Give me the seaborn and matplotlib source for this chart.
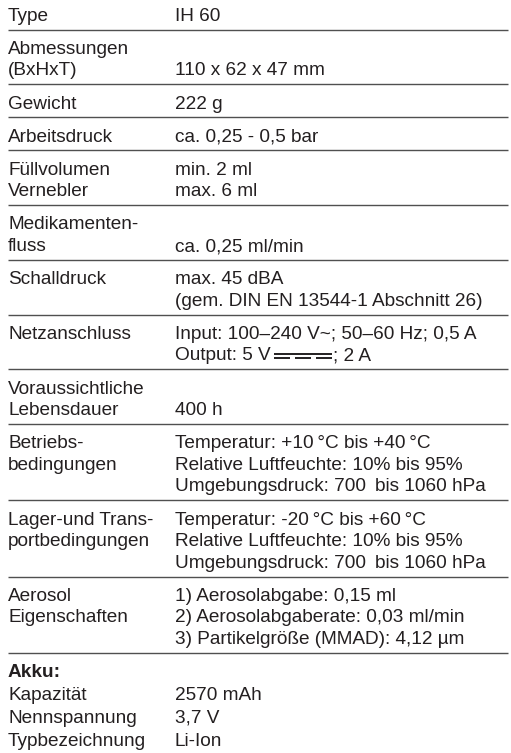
import matplotlib
matplotlib.use("Agg")
import matplotlib.pyplot as plt
import seaborn as sns

# table content
labels = ["Type", "Abmessungen\n(BxHxT)", "Gewicht", "Arbeitsdruck",
          "Füllvolumen\nVernebler", "Medikamenten-\nfluss", "Schalldruck",
          "Netzanschluss", "Voraussichtliche\nLebensdauer",
          "Betriebs-\nbedingungen", "Lager-und Trans-\nportbedingungen",
          "Aerosol\nEigenschaften"]
values = ["IH 60",
          "\n110 x 62 x 47 mm",
          "222 g",
          "ca. 0,25 - 0,5 bar",
          "min. 2 ml\nmax. 6 ml",
          "\nca. 0,25 ml/min",
          "max. 45 dBA\n(gem. DIN EN 13544-1 Abschnitt 26)",
          "Input: 100\u2013240 V~; 50\u201360 Hz; 0,5 A\nOutput: 5 V \u2393; 2 A",
          "\n400 h",
          "Temperatur: +10\u2009°C bis +40\u2009°C\nRelative Luftfeuchte: 10% bis 95%\nUmgebungsdruck: 700 \u2009bis 1060 hPa",
          "Temperatur: -20\u2009°C bis +60\u2009°C\nRelative Luftfeuchte: 10% bis 95%\nUmgebungsdruck: 700 \u2009bis 1060 hPa",
          "1) Aerosolabgabe: 0,15 ml\n2) Aerosolabgaberate: 0,03 ml/min\n3) Partikelgröße (MMAD): 4,12 µm"]
akku_title = "Akku:"
akku_labels = ["Kapazität", "Nennspannung", "Typbezeichnung"]
akku_values = ["2570 mAh", "3,7 V", "Li-Ion"]

sns.set_style("white")
plt.rcParams['font.family'] = ['Liberation Sans', 'DejaVu Sans']

fig = plt.figure(figsize=(5.11, 7.53), dpi=100)
ax = fig.add_axes([0, 0, 1, 1])
ax.set_xlim(0, 511)
ax.set_ylim(753, 0)
ax.axis("off")

ink = "#231f20"
rule_col = "#505050"
fs = 13.7
pitch = 21.6
x_lab, x_val = 8, 175
renderer = fig.canvas.get_renderer()


def put(x, y, s, **kw):
    return ax.text(x, y, s, fontsize=fs, color=ink, va="baseline", ha="left", **kw)


def put_value(x, y, s):
    if "\u2393" not in s:
        put(x, y, s)
        return
    # DC symbol drawn by hand (solid bar over three dashes)
    head, tail = s.split("\u2393")
    t = put(x, y, head.rstrip())
    bb = t.get_window_extent(renderer).transformed(ax.transData.inverted())
    x0 = bb.x1 + 3
    w = 58
    ax.plot([x0, x0 + w], [y - 6, y - 6], color=ink, lw=1.4, solid_capstyle="butt")
    dash = (w - 2 * 5) / 3
    for k in range(3):
        xs = x0 + k * (dash + 5)
        ax.plot([xs, xs + dash], [y - 2, y - 2], color=ink, lw=1.4, solid_capstyle="butt")
    put(x0 + w + 1, y, tail)


base = 20.7
rules = []
for lab, val in zip(labels, values):
    ll = lab.split("\n")
    vl = val.split("\n")
    n = max(len(ll), len(vl))
    for k, s in enumerate(ll):
        put(x_lab, base + k * pitch, s)
    for k, s in enumerate(vl):
        if s:
            put_value(x_val, base + k * pitch, s)
    last = base + (n - 1) * pitch
    rule = last + 8.8
    rules.append(rule)
    base = rule + 24.3

ax.hlines(rules, 8, 508, color=rule_col, lw=1.0)

put(x_lab, base, akku_title, fontweight="bold")
for k, (lab, val) in enumerate(zip(akku_labels, akku_values)):
    y = base + (k + 1) * 22.8
    put(x_lab, y, lab)
    put(x_val, y, val)

fig.savefig("out.png", dpi=100)
